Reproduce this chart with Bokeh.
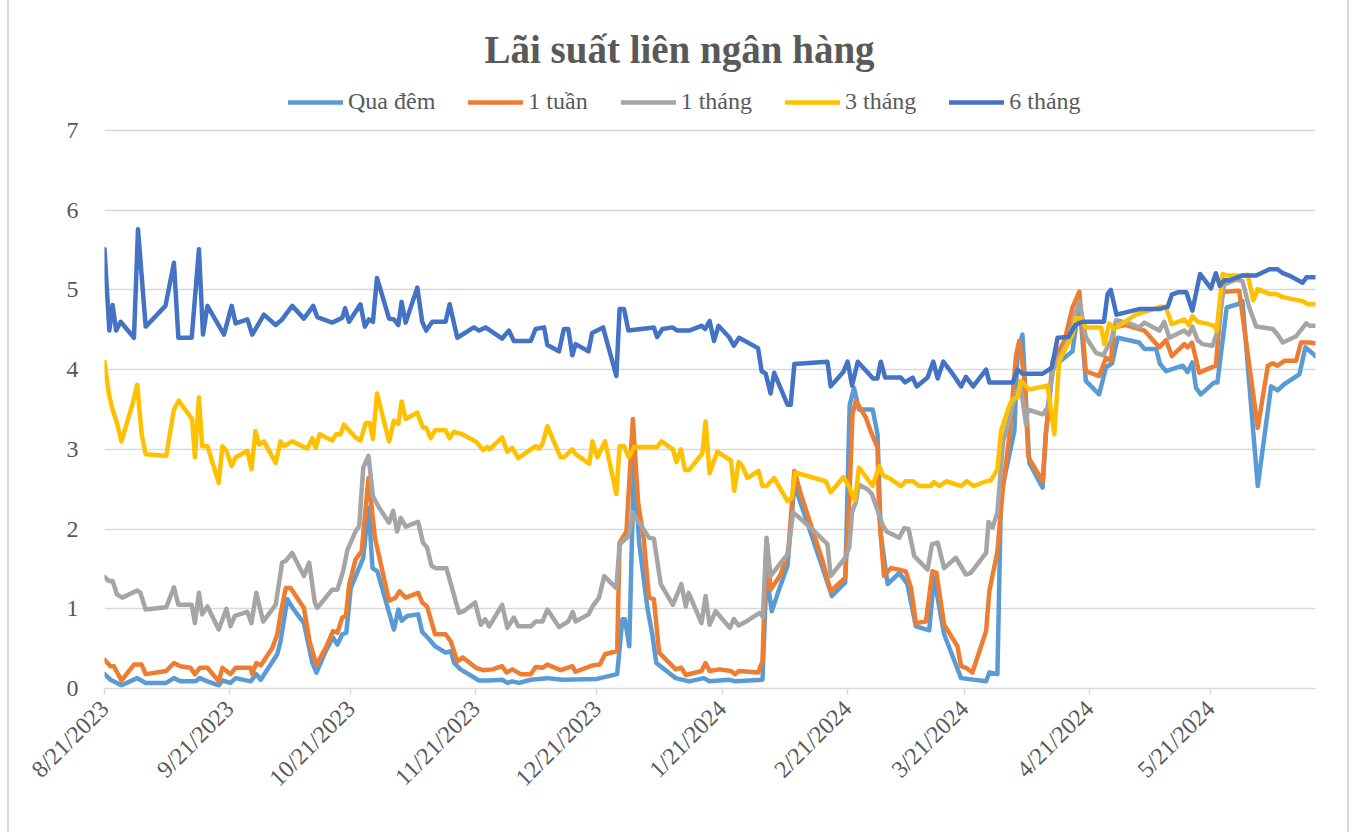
import math
import pandas as pd
from bokeh.plotting import figure
from bokeh.models import (Legend, LegendItem, FixedTicker, Range1d, Label,
                          CustomJSTickFormatter)
from bokeh.embed import file_html
from bokeh.resources import INLINE

START = pd.Timestamp("2023-08-21")
END_DAY = 300
TITLE = "Lãi suất liên ngân hàng"
SERIES_NAMES = ["Qua đêm", "1 tuần", "1 tháng", "3 tháng", "6 tháng"]
COLORS = ["#5B9BD5", "#ED7D31", "#A5A5A5", "#FFC000", "#4472C4"]
TICK_DATES = ["2023-08-21", "2023-09-21", "2023-10-21", "2023-11-21", "2023-12-21",
              "2024-01-21", "2024-02-21", "2024-03-21", "2024-04-21", "2024-05-21"]
Y_TICKS = [0, 1, 2, 3, 4, 5, 6, 7]

# --- Qua đêm (overnight) : day offset from START, rate %
on_days = [0, 1.5, 4.2, 8.1, 10.2, 15.3, 17.2, 18.8, 22.6, 23.6, 25.5, 28.3, 29.2, 31.2, 32.5,
           36.2, 37.6, 38.7, 42.8, 43.6, 45.3, 46.9, 49.4, 51.5, 52.5, 54.8, 56.6, 57.7, 58.9,
           59.9, 61, 64.1, 65.4, 66.4, 67.6, 71.7, 72.8, 73.6, 75, 77.7, 78.7, 80.2, 81.9,
           84.5, 85.8, 86.6, 88.2, 92.8, 95.3, 98.5, 99.8, 101, 102.7, 105.6, 109.7, 113.4,
           122, 127, 128.3, 128.9, 130, 131.2, 132.4, 134.5, 135.7, 136.7, 141.5, 144.8,
           148.5, 149.9, 154.7, 156.4, 163, 164, 165.3, 167.1, 169.2, 170.9, 177.9, 180.2,
           183.5, 184.6, 185.7, 186.9, 190.3, 191.5, 192.3, 194, 196.9, 198.9, 201, 204.3,
           205.5, 208, 212.2, 218.4, 219.2, 221.2, 222.1, 225.4, 226.2, 227.4, 229.1, 232.4,
           233.2, 234.9, 239.8, 241.5, 243.1, 246.4, 248.1, 249.6, 251, 256.3, 257.6, 260.5,
           261.5, 263, 267.1, 268.3, 269.5, 270.4, 271.6, 274.9, 275.7, 278, 280.7, 281.9,
           285.7, 289, 290.6, 292.3, 296, 297.5, 300]
on_vals = [0.18, 0.11, 0.04, 0.13, 0.07, 0.07, 0.13, 0.09, 0.09, 0.13, 0.09, 0.04, 0.10, 0.07, 0.13,
           0.09, 0.18, 0.11, 0.43, 0.59, 1.12, 0.99, 0.82, 0.32, 0.20, 0.47, 0.64, 0.55, 0.68,
           0.70, 1.26, 1.64, 2.27, 1.51, 1.47, 0.74, 0.99, 0.85, 0.91, 0.93, 0.71, 0.63, 0.53,
           0.45, 0.47, 0.32, 0.24, 0.10, 0.10, 0.11, 0.07, 0.09, 0.07, 0.11, 0.13, 0.11,
           0.12, 0.18, 0.87, 0.87, 0.53, 2.94, 1.85, 1.01, 0.68, 0.32, 0.13, 0.09,
           0.13, 0.09, 0.11, 0.09, 0.11, 1.43, 0.97, 1.24, 1.54, 2.56, 1.51, 1.16,
           1.33, 3.56, 3.77, 3.50, 3.50, 3.19, 1.93, 1.31, 1.45, 1.31, 0.78, 0.73,
           1.39, 0.68, 0.13, 0.09, 0.20, 0.18, 2.44, 3.23, 4.23, 4.44, 2.83, 2.52,
           3.19, 4.03, 4.23, 4.86, 3.86, 3.69, 4.03, 4.08, 4.40, 4.34, 4.26, 4.26,
           4.07, 3.98, 4.05, 3.97, 4.09, 3.77, 3.69, 3.84, 3.84, 4.78, 4.82, 4.86,
           2.54, 3.79, 3.74, 3.82, 3.94, 4.28, 4.17]

# --- 1 tuần (1 week)
w1_days = [0, 1.5, 2.3, 4.2, 7.3, 9.2, 10.2, 15.3, 17.2, 18.8, 21.3, 22.4, 23.6, 25.5, 28.3, 29.2,
           31.2, 32.5, 36.2, 36.6, 37.6, 38.7, 41.6, 42.8, 43.6, 44.9, 46.1, 49.4, 50.8, 52.5,
           54.8, 56.6, 57.7, 58.9, 59.8, 60.6, 62.2, 63.7, 65.4, 67, 70.5, 72.1, 73.1, 74.6,
           77.7, 78.7, 79.9, 81.9, 84.5, 85.8, 87.4, 88.8, 92, 93.8, 96.1, 98.5, 99.6, 101,
           103.1, 105.6, 106.8, 108.5, 109.7, 113, 115.9, 116.7, 120.9, 122.7, 124, 127,
           127.6, 129.3, 130.9, 132.2, 133.6, 134.9, 136.1, 137.4, 141.5, 142.9, 144, 147.9,
           148.9, 149.9, 152.4, 155.2, 156.2, 157.2, 161.9, 163, 164, 165, 167.5, 169.4,
           170.9, 172.5, 177.9, 179.9, 183.5, 184.5, 185.3, 186.1, 188.6, 189.8, 191.5, 191.9,
           193.1, 194.8, 196.9, 198.5, 199.8, 201, 203.5, 205.1, 206.1, 208, 211.3, 212.2,
           213.4, 215, 218.4, 219.2, 221.2, 222.5, 224.1, 225.8, 226.6, 227.8, 228.9, 232.4,
           233.2, 234.9, 237.8, 239.8, 241.5, 243.1, 246.4, 248.1, 249.3, 250.1, 253, 257.6,
           261.3, 263, 264.4, 267.5, 268.3, 269.4, 271.2, 272.9, 275.3, 276.9, 278.2, 281.1,
           285.7, 288.2, 289.4, 290.6, 292.3, 295.2, 296.4, 298.5, 300]
w1_vals = [0.36, 0.28, 0.28, 0.10, 0.30, 0.30, 0.18, 0.22, 0.32, 0.28, 0.26, 0.18, 0.26, 0.26, 0.09, 0.26,
           0.18, 0.26, 0.26, 0.18, 0.32, 0.29, 0.51, 0.68, 0.93, 1.26, 1.26, 1.01, 0.59, 0.30,
           0.51, 0.72, 0.70, 0.89, 0.91, 1.30, 1.62, 1.72, 2.64, 1.89, 1.10, 1.14, 1.22, 1.14,
           1.20, 1.08, 1.03, 0.68, 0.68, 0.59, 0.34, 0.39, 0.26, 0.23, 0.24, 0.28, 0.20, 0.24,
           0.18, 0.18, 0.27, 0.26, 0.30, 0.23, 0.28, 0.21, 0.29, 0.30, 0.43, 0.47,
           1.83, 1.97, 3.38, 2.33, 1.87, 1.14, 1.12, 0.45, 0.24, 0.26, 0.17, 0.22,
           0.32, 0.22, 0.24, 0.22, 0.18, 0.22, 0.20, 0.34, 1.87, 1.24, 1.43, 1.72,
           2.73, 2.44, 1.60, 1.22, 1.39, 2.35, 3.44, 3.61, 3.40, 3.23, 3.02, 2.18,
           1.41, 1.51, 1.49, 1.47, 1.26, 0.82, 0.84, 1.47, 1.45, 0.80, 0.53, 0.28,
           0.26, 0.20, 0.72, 1.22, 1.72, 2.48, 3.15, 4.17, 4.36, 3.92, 2.90, 2.60,
           3.19, 4.11, 4.36, 4.78, 4.98, 3.98, 3.92, 4.15, 4.11, 4.53, 4.56, 4.49,
           4.28, 4.37, 4.17, 4.32, 4.28, 4.34, 3.96, 4.00, 4.05, 4.97, 4.98, 4.99,
           3.27, 4.05, 4.08, 4.05, 4.11, 4.11, 4.34, 4.34, 4.33]

# --- 1 tháng (1 month)
m1_days = [0, 1, 2, 3.1, 4.4, 8.1, 8.9, 10.2, 15.3, 17.2, 18.3, 21.6, 22.4, 23.4, 24.2, 25.5,
           28.3, 30.2, 31.2, 32.3, 35.4, 36.4, 37.6, 39.3, 42.4, 44, 44.9, 46.5, 49.4, 50.7,
           52.1, 52.7, 56.4, 57.7, 59.1, 60.2, 62.2, 63.1, 64.1, 65.4, 66.5, 68, 70.5, 71.5,
           72.5, 73.4, 74.6, 77.7, 78.9, 79.9, 81, 82, 84.7, 86.2, 87.8, 89, 91.8, 93.2, 94.3,
           95.3, 98.5, 99.8, 101.4, 102.5, 105.6, 106.8, 108.5, 109.7, 112.6, 114.9, 116,
           116.7, 119.9, 120.9, 122.5, 123.8, 126.8, 127.6, 129.8, 130.9, 132.2, 134.9, 136.1,
           137.8, 140.8, 142.9, 144, 144.7, 147.9, 148.9, 149.9, 151.4, 154.9, 155.9, 157.1,
           159.3, 162.3, 163.1, 164, 165, 167.9, 169.2, 170.6, 174.9, 179.1, 179.9, 183.5,
           184.5, 185.2, 186.2, 186.8, 189, 190.1, 192.7, 193.7, 196.9, 198.1, 199.2, 200.6,
           203.9, 205, 206.4, 208, 210.9, 213.4, 214.6, 218.4, 219, 220, 221.2, 222.6, 224.1,
           225.8, 227, 228.3, 228.7, 232.4, 233.6, 235, 238.6, 241.5, 243.1, 245.6, 247.4,
           249.3, 250.6, 253.9, 256.3, 257.6, 261.3, 262.5, 263.8, 267.5, 268.6, 269.5, 270.8,
           272, 274.5, 275.8, 277.4, 280.3, 281.9, 283.6, 285.3, 289.4, 290.6, 291.9, 295.2,
           297.7, 298.5, 300]
m1_vals = [1.40, 1.35, 1.35, 1.18, 1.14, 1.23, 1.20, 0.99, 1.02, 1.27, 1.05, 1.05, 0.82, 1.20, 0.93, 1.03,
           0.74, 1.00, 0.78, 0.91, 0.96, 0.82, 1.20, 0.84, 1.05, 1.58, 1.60, 1.70, 1.41, 1.58,
           1.08, 1.01, 1.24, 1.24, 1.47, 1.74, 1.97, 2.04, 2.77, 2.92, 2.41, 2.27, 2.08, 2.23,
           1.97, 2.14, 2.03, 2.09, 1.83, 1.77, 1.54, 1.51, 1.51, 1.24, 0.95, 0.97, 1.08, 0.80, 0.87,
           0.78, 1.05, 0.76, 0.89, 0.78, 0.78, 0.84, 0.84, 0.99, 0.77, 0.84, 0.96,
           0.84, 0.93, 1.03, 1.14, 1.41, 1.26, 1.81, 1.91, 2.21, 2.10, 1.89, 1.88,
           1.31, 1.05, 1.31, 1.03, 1.20, 0.82, 1.16, 0.80, 0.97, 0.76, 0.87, 0.79,
           0.85, 0.95, 0.90, 1.89, 1.41, 1.60, 1.68, 2.21, 2.02, 1.81, 1.41, 1.64,
           1.77, 2.21, 2.35, 2.56, 2.50, 2.44, 2.06, 1.97, 1.89, 2.01, 2.00, 1.66,
           1.49, 1.81, 1.83, 1.51, 1.64, 1.43, 1.45, 1.70, 2.09, 2.02, 2.21, 3.10, 3.36,
           3.73, 3.77, 3.31, 3.50, 3.44, 3.52, 4.00, 4.36, 4.86, 4.41, 4.21, 4.18,
           4.36, 4.62, 4.58, 4.53, 4.59, 4.49, 4.60, 4.40, 4.49, 4.44, 4.54, 4.37,
           4.32, 4.30, 4.49, 5.07, 5.13, 5.11, 4.78, 4.54, 4.51, 4.44, 4.34, 4.42,
           4.58, 4.55, 4.55]

# --- 3 tháng (3 months)
m3_days = [0, 1.1, 2, 3.1, 4.2, 6.9, 8.1, 9.2, 10.2, 15.3, 17.2, 18.4, 21.7, 22.4, 23.4, 24.2,
           25.5, 28.3, 29.2, 30.2, 31.5, 32.5, 35.4, 36.4, 37.4, 38.3, 39.5, 42.4, 43.6, 44.5,
           46.5, 50.2, 51.5, 52.3, 53.3, 56.4, 57.4, 58.5, 59.3, 62.2, 63.4, 64.7, 65.7, 66.5,
           67.5, 70.5, 71.7, 72.8, 73.6, 74.6, 77.5, 78.9, 79.7, 80.8, 81.9, 84.5, 85.5, 86.6,
           88.6, 92, 93.8, 94.8, 95.4, 98.5, 99.8, 101, 102.5, 105.6, 106.8, 107.6, 108.5,
           109.7, 113, 113.8, 115.9, 116.7, 120.1, 120.9, 122.1, 124, 126.8, 127.6, 128.7,
           129.9, 131.2, 136.9, 138, 140.8, 141.7, 142.8, 143.8, 144.8, 148.1, 148.9, 149.9,
           151.8, 155.2, 156, 157.1, 158, 159.3, 162, 163, 164, 165.9, 169.2, 170.3, 171.1,
           178.7, 179.9, 183, 184.1, 185.9, 186.9, 190.3, 191.9, 192.9, 194.4, 197.3, 198.5,
           200.3, 201.8, 204.7, 205.5, 206.8, 208.6, 212.2, 213.6, 215.4, 218.4, 219.6, 221.2,
           222.1, 224.1, 225, 226.2, 227, 229.1, 233.6, 235.3, 236.5, 239.8, 240.6, 242.1,
           243.1, 246.9, 247.7, 248.9, 250.1, 255.5, 261.7, 262.9, 264.4, 267.5, 268.6, 269.5,
           270.8, 272.9, 275, 275.5, 277, 278.2, 281.9, 283.2, 284.6, 285.7, 288.6, 290.2,
           291.9, 296.8, 298.1, 300]
m3_vals = [4.10, 3.69, 3.50, 3.33, 3.10, 3.56, 3.81, 3.19, 2.94, 2.92, 3.50, 3.61, 3.38, 2.90, 3.65, 3.04,
           3.04, 2.58, 3.04, 2.98, 2.79, 2.90, 2.98, 2.75, 3.23, 3.06, 3.10, 2.83, 3.10, 3.04,
           3.10, 3.01, 3.14, 3.02, 3.19, 3.11, 3.19, 3.19, 3.31, 3.15, 3.11, 3.33, 3.33, 3.13,
           3.70, 3.10, 3.36, 3.32, 3.60, 3.38, 3.46, 3.27, 3.27, 3.14, 3.24, 3.24, 3.14, 3.22,
           3.19, 3.10, 2.99, 3.03, 3.00, 3.15, 2.97, 3.02, 2.89, 3.00, 3.04, 3.01, 3.07,
           3.29, 2.90, 2.90, 3.00, 2.94, 2.82, 3.10, 2.90, 3.10, 2.44, 3.04, 3.04,
           2.90, 3.03, 3.03, 3.10, 3.00, 2.84, 3.00, 2.74, 2.74, 2.95, 3.35, 2.70,
           2.97, 2.86, 2.48, 2.84, 2.79, 2.64, 2.73, 2.54, 2.54, 2.64, 2.35, 2.39, 2.71,
           2.60, 2.46, 2.65, 2.57, 2.36, 2.77, 2.54, 2.79, 2.67, 2.64, 2.54, 2.60,
           2.60, 2.54, 2.54, 2.59, 2.54, 2.60, 2.54, 2.60, 2.54, 2.60, 2.61, 2.75,
           3.23, 3.54, 3.63, 3.65, 3.86, 3.75, 3.80, 3.19, 4.11, 4.44, 4.65, 4.64,
           4.53, 4.53, 4.32, 4.58, 4.51, 4.69, 4.79, 4.79, 4.57, 4.63, 4.56, 4.67,
           4.60, 4.58, 4.55, 4.49, 5.20, 5.18, 5.18, 5.19, 4.87, 5.01, 4.95, 4.95,
           4.91, 4.86, 4.82, 4.82]

# --- 6 tháng (6 months)
m6_days = [0, 1.2, 2, 2.9, 4, 7.3, 8.3, 10.2, 15.1, 17.2, 18.3, 21.6, 23.4, 24.4, 25.5, 29.6,
           31.5, 32.5, 35.4, 36.6, 39.5, 42.4, 44, 46.5, 49.4, 51.7, 52.7, 56.4, 58.9, 59.6,
           60.6, 63.4, 64.5, 65.5, 66.5, 67.5, 70.5, 71.7, 72.8, 73.6, 74.6, 77.5, 78.7, 79.7,
           81.2, 84.5, 85.5, 87.4, 91.5, 92.8, 94.4, 98.5, 100.2, 101.4, 105.6, 106.8, 108.9,
           109.7, 112.6, 113.8, 114.9, 115.9, 116.7, 119.9, 120.8, 123.5, 126.8, 127.6, 128.7,
           129.8, 136.1, 136.9, 138.2, 140.7, 141.9, 144.8, 147.9, 148.8, 149.9, 151, 152.1,
           154.7, 155.9, 157.2, 161.9, 162.8, 163.8, 165, 165.9, 169.2, 170, 170.9, 179.1,
           179.9, 183, 184.1, 185.2, 186.6, 190.4, 191.5, 192.3, 193.4, 197.3, 198.3, 200.2,
           201.2, 203.9, 205.3, 206.4, 207.8, 210.2, 212.2, 213.4, 215.2, 218.4, 219.2, 225,
           226.2, 227.4, 232.4, 234, 234.7, 236.1, 238.8, 240.5, 242.3, 247.6, 248.5, 249.3,
           250.7, 256.3, 261.3, 263.4, 264.4, 265.9, 268, 269.5, 271.4, 274.1, 275.3, 276.3,
           277.4, 278.6, 281.9, 285.3, 288.6, 290.6, 291.9, 293.5, 296.8, 297.8, 300]
m6_vals = [5.51, 4.49, 4.81, 4.49, 4.60, 4.40, 5.76, 4.54, 4.80, 5.34, 4.40, 4.40, 5.51, 4.44, 4.80, 4.44,
           4.80, 4.58, 4.63, 4.44, 4.69, 4.56, 4.63, 4.80, 4.64, 4.80, 4.66, 4.59, 4.65, 4.77,
           4.60, 4.82, 4.54, 4.63, 4.60, 5.15, 4.64, 4.63, 4.56, 4.85, 4.59, 5.03, 4.60, 4.49,
           4.60, 4.60, 4.82, 4.40, 4.53, 4.49, 4.53, 4.39, 4.49, 4.36, 4.36, 4.51, 4.53,
           4.31, 4.23, 4.51, 4.51, 4.18, 4.32, 4.23, 4.46, 4.53, 3.92, 4.76, 4.76,
           4.49, 4.53, 4.41, 4.51, 4.53, 4.49, 4.49, 4.55, 4.51, 4.61, 4.36, 4.55,
           4.41, 4.30, 4.40, 4.27, 3.98, 3.95, 3.70, 3.96, 3.56, 3.56, 4.07, 4.10,
           3.79, 3.97, 4.10, 3.80, 4.10, 3.89, 3.89, 4.10, 3.90, 3.90, 3.84, 3.90,
           3.79, 3.90, 4.10, 3.89, 4.10, 3.94, 3.79, 3.91, 3.79, 4.00, 3.84, 3.84,
           4.00, 3.95, 3.95, 4.00, 4.03, 4.40, 4.41, 4.56, 4.60, 4.60, 4.95, 5.00,
           4.69, 4.76, 4.76, 4.79, 4.94, 4.97, 4.97, 4.74, 5.20, 5.02, 5.21, 5.05,
           5.12, 5.12, 5.18, 5.18, 5.26, 5.26, 5.21, 5.18, 5.09, 5.16, 5.16]

SERIES_DAYS = [on_days, w1_days, m1_days, m3_days, m6_days]
SERIES_VALS = [on_vals, w1_vals, m1_vals, m3_vals, m6_vals]

FONT = "Liberation Serif"
TEXT_COLOR = "#595959"
GRID_COLOR = "#D9D9D9"

W, H = 1355, 832
BL, BR, BB = 104, 40, 144          # frame borders (frame reaches the top edge)
FRAME_H = H - BB
AXIS_TOP_PX = 130                  # pixel row of the value 7 gridline
Y_MAX = 7 * FRAME_H / (FRAME_H - AXIS_TOP_PX)   # headroom above 7 for title + legend


def to_dates(days):
    return START + pd.to_timedelta(days, unit="D")


p = figure(width=W, height=H, x_axis_type="datetime",
           output_backend="svg", toolbar_location=None,
           x_range=Range1d(START, START + pd.Timedelta(days=END_DAY)),
           y_range=Range1d(0, Y_MAX),
           min_border_left=BL, min_border_right=BR, min_border_top=0, min_border_bottom=BB)
p.outline_line_color = None
p.background_fill_color = "white"
p.border_fill_color = None
p.styles = {"background": "linear-gradient(to right, #fff 7px, #D9D9D9 7px, #D9D9D9 9px, "
                          "#fff 9px, #fff 1347px, #D9D9D9 1347px, #D9D9D9 1349px, #fff 1349px)"}

# title (screen units relative to the frame's bottom-left corner)
p.add_layout(Label(x=679 - BL, y=FRAME_H - 49, x_units="screen", y_units="screen",
                   text=TITLE, text_align="center", text_baseline="alphabetic",
                   text_font=FONT, text_font_size="39px", text_font_style="bold",
                   text_color=TEXT_COLOR))

items = []
for name, color, days, vals in zip(SERIES_NAMES, COLORS, SERIES_DAYS, SERIES_VALS):
    r = p.line(to_dates(days), vals, line_color=color, line_width=4.5,
               line_join="round", line_cap="round")
    items.append(LegendItem(label=name, renderers=[r]))

legend = Legend(items=items, orientation="horizontal",
                location=(288 - BL, FRAME_H - 115))
legend.label_text_font = FONT
legend.label_text_font_size = "24px"
legend.label_text_color = TEXT_COLOR
legend.glyph_width = 55
legend.glyph_height = 24
legend.label_standoff = 5
legend.spacing = 33
legend.padding = 0
legend.margin = 0
legend.border_line_color = None
legend.background_fill_alpha = 0
p.add_layout(legend, "center")

# axes
p.xaxis.ticker = FixedTicker(ticks=[pd.Timestamp(d).value // 10**6 for d in TICK_DATES])
p.xaxis.formatter = CustomJSTickFormatter(code="""
    const d = new Date(tick);
    return (d.getUTCMonth() + 1) + "/" + d.getUTCDate() + "/" + d.getUTCFullYear();
""")
p.xaxis.major_label_orientation = math.pi / 4
p.xaxis.axis_line_color = GRID_COLOR
p.xaxis.axis_line_width = 1.5
p.xaxis.major_tick_line_color = GRID_COLOR
p.xaxis.major_tick_line_width = 1.5
p.xaxis.major_tick_out = 6
p.xaxis.major_tick_in = 0
p.xaxis.minor_tick_line_color = None
p.xaxis.major_label_standoff = 10

p.yaxis.ticker = FixedTicker(ticks=Y_TICKS)
p.yaxis.axis_line_color = None
p.yaxis.major_tick_line_color = None
p.yaxis.minor_tick_line_color = None
p.yaxis.major_label_standoff = 20

for ax in (p.xaxis, p.yaxis):
    ax.major_label_text_font = FONT
    ax.major_label_text_font_size = "24px"
    ax.major_label_text_color = TEXT_COLOR

p.xgrid.grid_line_color = None
p.ygrid.grid_line_color = GRID_COLOR
p.ygrid.grid_line_width = 1.5

open("out.html", "w").write(file_html(p, INLINE))
